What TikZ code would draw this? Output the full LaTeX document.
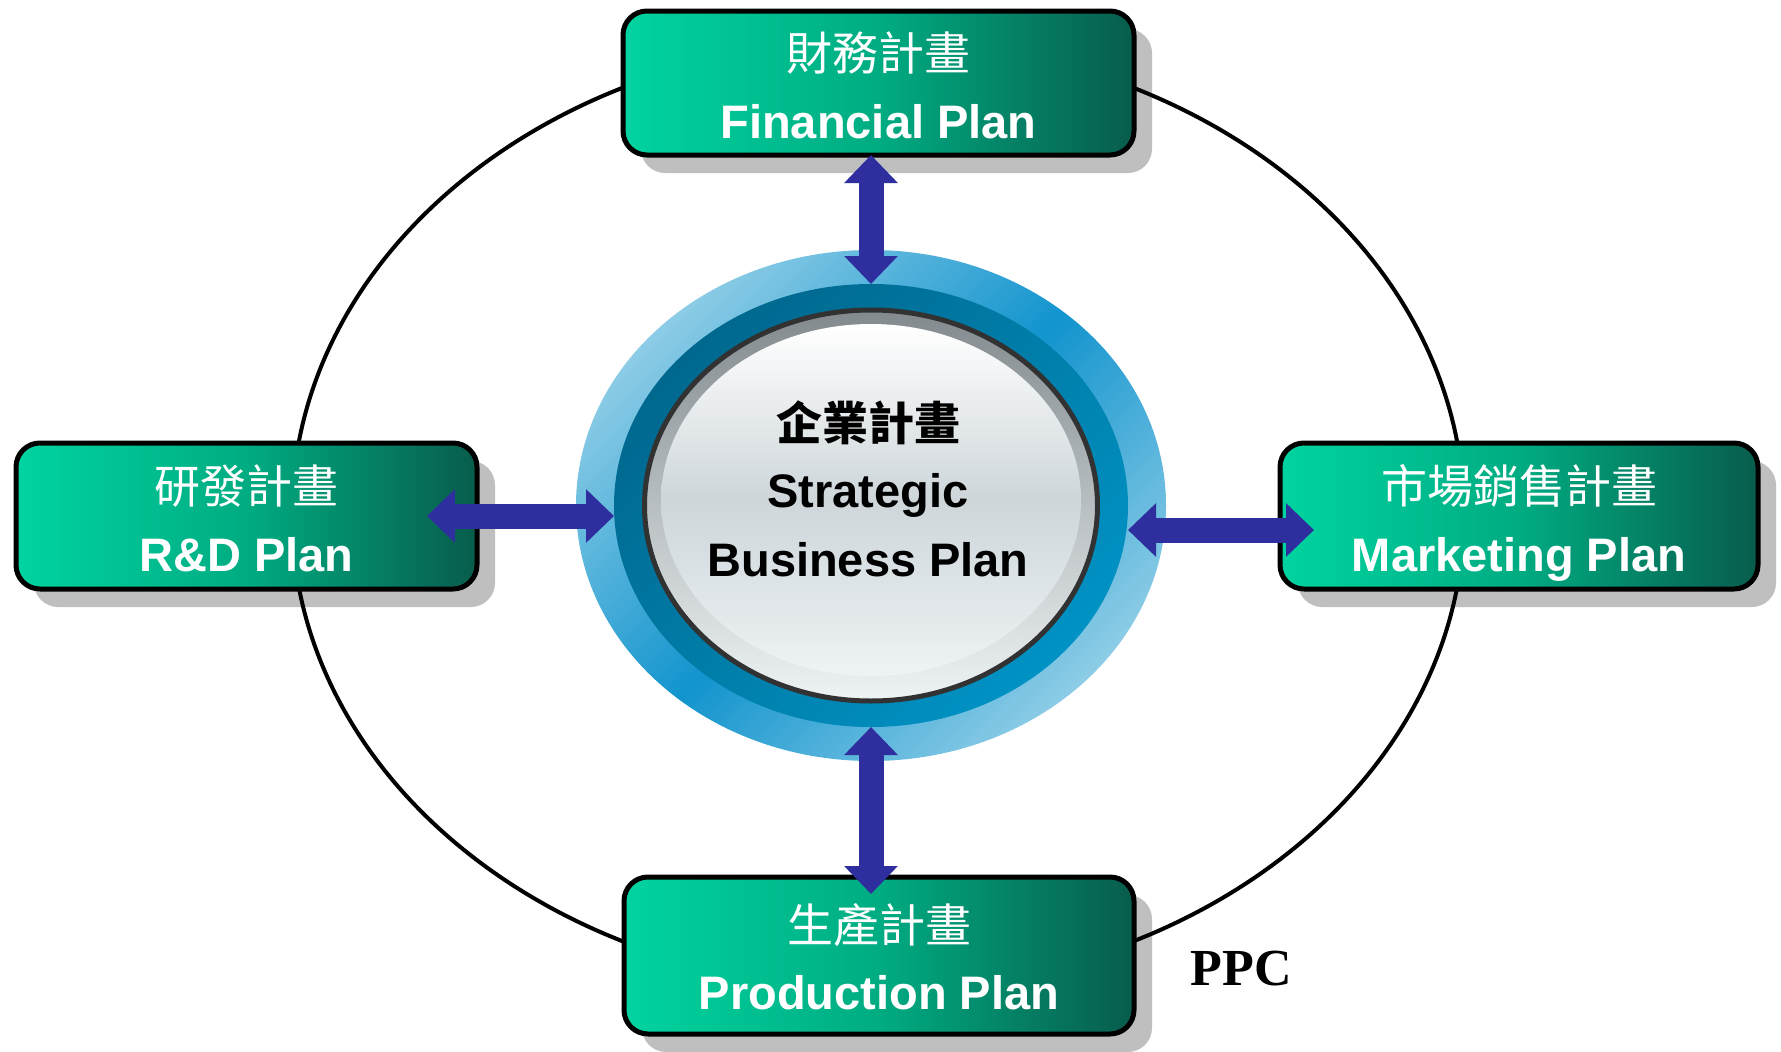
\documentclass[tikz,border=0pt]{standalone}
\usepackage{fontspec}
\setmainfont{Liberation Sans}
\newfontfamily\cjk{Noto Sans CJK TC}
\newfontfamily\ppcfont{Liberation Serif}
\usetikzlibrary{arrows.meta,calc,shadows,shapes.geometric}

\definecolor{boxL}{RGB}{0,212,160}
\definecolor{boxM}{RGB}{0,172,130}
\definecolor{boxR}{RGB}{8,92,76}
\definecolor{arrowblue}{RGB}{46,46,158}
\definecolor{ringDarkA}{RGB}{0,104,142}
\definecolor{ringDarkB}{RGB}{0,146,196}
\definecolor{ringLight}{RGB}{140,204,230}
\definecolor{ringMid}{RGB}{18,148,206}
\definecolor{bevelTop}{RGB}{130,138,142}
\definecolor{bevelBot}{RGB}{238,243,244}
\definecolor{discBot}{RGB}{206,214,218}
\definecolor{rimBlack}{RGB}{50,50,50}

\tikzset{
  planbox/.style={rounded corners=24pt, draw=black, line width=5pt,
    left color=boxL, right color=boxR, middle color=boxM,
    drop shadow={shadow xshift=18pt, shadow yshift=-18pt, fill=black, opacity=0.25},
    inner sep=0pt, outer sep=0pt},
  cnlabel/.style={anchor=base, text=white, font=\cjk\fontsize{46}{50}\selectfont, inner sep=0pt},
  enlabel/.style={anchor=base, text=white, font=\bfseries\fontsize{47}{50}\selectfont, inner sep=0pt},
  hubshape/.style={ellipse, inner sep=0pt, outer sep=0pt},
  bigarrow/.style={draw=arrowblue, line width=25pt,
    {Triangle[width=52pt,length=28pt]}-{Triangle[width=52pt,length=28pt]}},
  orbit/.style={draw=black, line width=4pt}
}

\begin{document}
\begin{tikzpicture}[x=1pt,y=1pt]
\useasboundingbox (0,0) rectangle (1781,-1052);

% outer orbit ellipse
\draw[orbit] (878,-514.5) ellipse [x radius=586, y radius=474];

% central hub
\node[hubshape, minimum width=590pt, minimum height=511pt,
      top color=ringLight, bottom color=ringLight, middle color=ringMid, shading angle=45] (hubout) at (871,-505.5) {};
\node[hubshape, minimum width=514pt, minimum height=443pt,
      top color=ringDarkA, bottom color=ringDarkB, shading angle=45] (hubring) at (871,-505.5) {};
\node[hubshape, minimum width=453pt, minimum height=391pt, draw=rimBlack, line width=5pt,
      top color=bevelTop, bottom color=bevelBot] (hubin) at (871,-505.5) {};
\node[hubshape, minimum width=420pt, minimum height=352pt,
      top color=white, bottom color=bevelBot, middle color=discBot] (hubdisc) at (871,-500) {};

\node[anchor=base, inner sep=0pt, font=\cjk\bfseries\fontsize{46}{50}\selectfont] (c1) at (868,-440) {企業計畫};
\node[anchor=base, inner sep=0pt, font=\bfseries\fontsize{47}{50}\selectfont] (c2) at (868,-507) {Strategic};
\node[anchor=base, inner sep=0pt, font=\bfseries\fontsize{47}{50}\selectfont] (c3) at (868,-576) {Business Plan};

% plan boxes
\node[planbox, minimum width=511pt, minimum height=144pt] (fin) at (878.5,-83) {};
\node[planbox, minimum width=461pt, minimum height=146pt] (rd) at (246.5,-516) {};
\node[planbox, minimum width=478pt, minimum height=146pt] (mk) at (1519,-516) {};
\node[planbox, minimum width=510pt, minimum height=157pt] (prod) at (879,-955.5) {};

\node[cnlabel] (fin1) at ($(fin.center)+(0,13)$) {財務計畫};
\node[enlabel] (fin2) at ($(fin.center)+(0,-55)$) {Financial Plan};
\node[cnlabel] (rd1) at ($(rd.center)+(0,13)$) {研發計畫};
\node[enlabel] (rd2) at ($(rd.center)+(0,-55)$) {R\&D Plan};
\node[cnlabel] (mk1) at ($(mk.center)+(0,13)$) {市場銷售計畫};
\node[enlabel] (mk2) at ($(mk.center)+(0,-55)$) {Marketing Plan};
\node[cnlabel] (prod1) at ($(prod.center)+(0,13)$) {生產計畫};
\node[enlabel] (prod2) at ($(prod.center)+(0,-54)$) {Production Plan};

% arrows
\coordinate (finout) at (fin.south -| hubring.north);
\draw[bigarrow] (finout) -- (hubring.north);
\coordinate (rdin) at ($(rd.east)+(-50,0)$);
\draw[bigarrow] (rdin) -- (rdin -| hubring.west);
\coordinate (mkin) at ($(mk.west)+(34,-14)$);
\draw[bigarrow] (mkin) -- (mkin -| hubring.east);
\coordinate (prodin) at ($(prod.north -| hubring.south)+(0,-17)$);
\draw[bigarrow] (prodin) -- (hubring.south);

% label
\node[font=\ppcfont\bfseries\fontsize{52}{56}\selectfont, inner sep=0pt] (ppc) at (1241,-969) {PPC};
\end{tikzpicture}
\end{document}
